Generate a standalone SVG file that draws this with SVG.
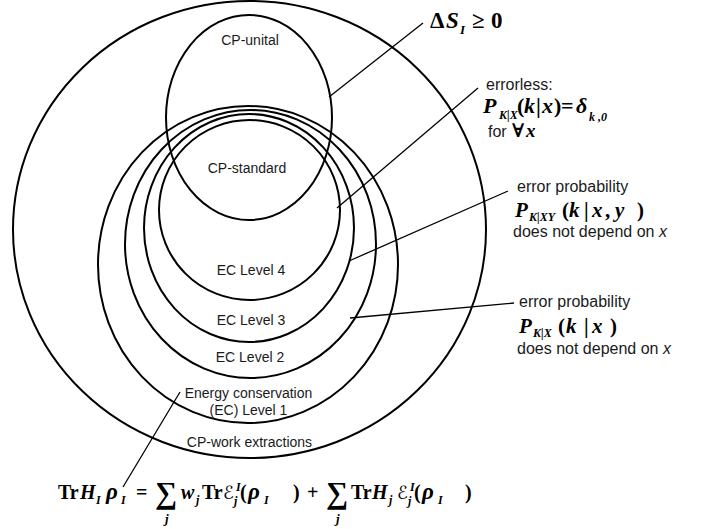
<svg xmlns="http://www.w3.org/2000/svg" width="721" height="529" viewBox="0 0 721 529">
<style>
.set{fill:none;stroke:#000;stroke-width:2}
.lead{fill:none;stroke:#000;stroke-width:1.3}
.lbl{font-family:"Liberation Sans",Arial,sans-serif;font-size:14px;fill:#1a1a1a;text-anchor:middle}
.rl{font-family:"Liberation Sans",Arial,sans-serif;font-size:16px;fill:#1a1a1a}
.m{font-family:"Liberation Serif","Times New Roman","DejaVu Serif",serif;font-weight:bold;fill:#000}
.i{font-style:italic}
.scr{font-family:"DejaVu Serif","DejaVu Sans",serif;font-weight:normal;font-style:italic}
</style>
<rect width="721" height="529" fill="#fff"/>
<g id="cp-work-extractions">
<ellipse class="set" cx="249.5" cy="229.5" rx="236.5" ry="228.5"/>
<text class="lbl" x="249.5" y="447">CP-work extractions</text>
</g>
<g id="ec-level-1">
<ellipse class="set" cx="248" cy="264.5" rx="150" ry="158.5"/>
<text class="lbl" x="248.5" y="398">Energy conservation</text>
<text class="lbl" x="248.5" y="415">(EC) Level 1</text>
</g>
<g id="ec-level-2">
<ellipse class="set" cx="250.5" cy="244" rx="125.5" ry="134"/>
<text class="lbl" x="250" y="362">EC Level 2</text>
</g>
<g id="ec-level-3">
<ellipse class="set" cx="249" cy="228" rx="105" ry="114"/>
<text class="lbl" x="251" y="325">EC Level 3</text>
</g>
<g id="ec-level-4">
<ellipse class="set" cx="249.5" cy="210" rx="90.5" ry="90"/>
<text class="lbl" x="251" y="275">EC Level 4</text>
</g>
<g id="cp-unital">
<ellipse class="set" cx="249" cy="117.5" rx="83" ry="102.5"/>
<text class="lbl" x="250" y="45">CP-unital</text>
</g>
<g id="cp-standard">
<text class="lbl" x="247" y="173">CP-standard</text>
</g>
<g id="connectors">
<line class="lead" x1="329" y1="97" x2="423" y2="23"/>
<line class="lead" x1="337" y1="208" x2="478" y2="88"/>
<line class="lead" x1="349" y1="261" x2="508" y2="191"/>
<line class="lead" x1="350" y1="318" x2="514" y2="303"/>
<line class="lead" x1="180" y1="392" x2="123" y2="487"/>
</g>
<g id="label-entropy" class="m" font-size="23">
<text x="430" y="28">Δ</text>
<text x="446" y="28" class="i">S</text>
<text x="460" y="34" class="i" font-size="13">I</text>
<text x="472" y="28">≥</text>
<text x="491" y="28">0</text>
</g>
<g id="label-errorless">
<text class="rl" x="486" y="90">errorless:</text>
<g class="m" font-size="22">
<text x="483" y="113" class="i">P</text>
<text x="499" y="119" class="i" font-size="12">K|X</text>
<text x="517" y="113">(</text>
<text x="524" y="113" class="i">k</text>
<text x="536" y="113">|</text>
<text x="542" y="113" class="i">x</text>
<text x="554" y="113">)</text>
<text x="561" y="113">=</text>
<text x="576" y="113" class="i">δ</text>
<text x="589" y="121" class="i" font-size="12">k ,0</text>
</g>
<text class="rl" x="488" y="137">for</text>
<text class="m" x="512" y="137" font-size="19">∀</text>
<text class="m i" x="526" y="137" font-size="19">x</text>
</g>
<g id="label-xy">
<text class="rl" x="517" y="192">error probability</text>
<g class="m" font-size="21">
<text x="515" y="217" class="i">P</text>
<text x="529" y="221" class="i" font-size="12">K|XY</text>
<text x="562" y="217">(</text>
<text x="569" y="217" class="i">k</text>
<text x="584" y="217">|</text>
<text x="592" y="217" class="i">x</text>
<text x="605" y="217">,</text>
<text x="615" y="217" class="i">y</text>
<text x="637" y="217">)</text>
</g>
<text class="rl" x="513" y="237">does not depend on <tspan font-style="italic">x</tspan></text>
</g>
<g id="label-x">
<text class="rl" x="519" y="307">error probability</text>
<g class="m" font-size="21">
<text x="519" y="333" class="i">P</text>
<text x="533" y="337" class="i" font-size="12">K|X</text>
<text x="558" y="333">(</text>
<text x="566" y="333" class="i">k</text>
<text x="584" y="333">|</text>
<text x="592" y="333" class="i">x</text>
<text x="610" y="333">)</text>
</g>
<text class="rl" x="517" y="354">does not depend on <tspan font-style="italic">x</tspan></text>
</g>
<g id="label-energy" class="m" font-size="20">
<text x="58" y="499">Tr</text>
<text x="80" y="499" class="i">H</text>
<text x="96" y="504" class="i" font-size="12">I</text>
<text x="106" y="499" class="i" font-size="23">ρ</text>
<text x="121" y="504" class="i" font-size="12">I</text>
<text x="136" y="499">=</text>
<text x="155" y="503" font-size="31">∑</text>
<text x="165" y="523" class="i" font-size="13">j</text>
<text x="181" y="499" class="i">w</text>
<text x="196" y="504" class="i" font-size="12">j</text>
<text x="202" y="499">Tr</text>
<text x="223" y="499" class="scr" font-size="18">ℰ</text>
<text x="236" y="491" class="i" font-size="12">I</text>
<text x="234" y="505" class="i" font-size="12">j</text>
<text x="240" y="499">(</text>
<text x="248" y="499" class="i" font-size="23">ρ</text>
<text x="264" y="504" class="i" font-size="12">I</text>
<text x="293" y="499">)</text>
<text x="307" y="499">+</text>
<text x="326" y="503" font-size="31">∑</text>
<text x="336" y="523" class="i" font-size="13">j</text>
<text x="351" y="499">Tr</text>
<text x="372" y="499" class="i">H</text>
<text x="389" y="504" class="i" font-size="12">j</text>
<text x="397" y="499" class="scr" font-size="18">ℰ</text>
<text x="410" y="491" class="i" font-size="12">I</text>
<text x="408" y="505" class="i" font-size="12">j</text>
<text x="414" y="499">(</text>
<text x="422" y="499" class="i" font-size="23">ρ</text>
<text x="438" y="504" class="i" font-size="12">I</text>
<text x="465" y="499">)</text>
</g>
</svg>
